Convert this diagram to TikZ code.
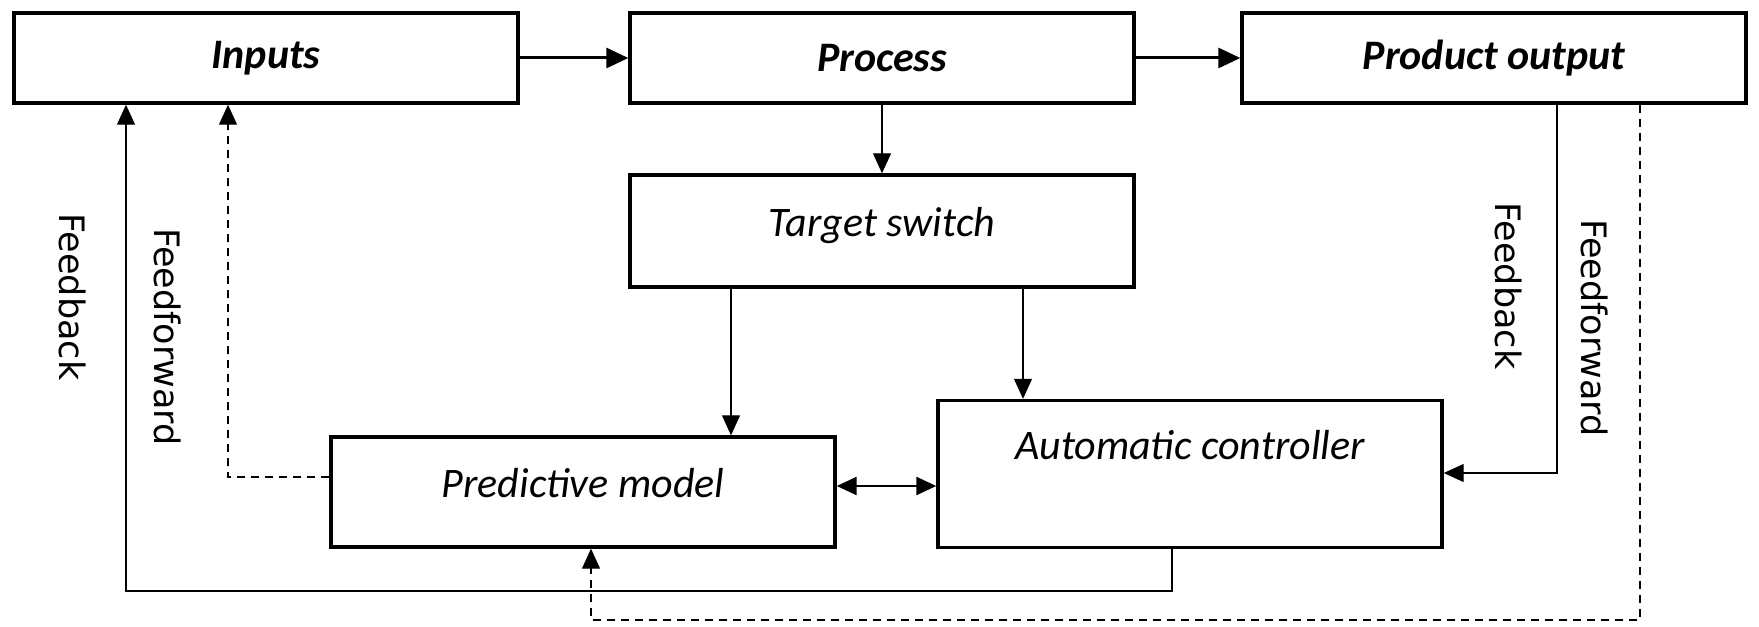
\documentclass[tikz,border=0pt]{standalone}
\usepackage{fontspec}
\setmainfont{Carlito}
\newfontfamily\labelfont{DejaVu Sans}
\usetikzlibrary{arrows.meta}

\tikzset{
  box/.style={draw, line width=1.7pt, minimum width=252pt, inner sep=0pt,
    font=\fontsize{21}{25}\selectfont\itshape},
  topbox/.style={box, minimum height=45pt,
    font=\fontsize{21}{25}\selectfont\bfseries\itshape},
  arr/.style={-{Triangle[length=10pt,width=9pt]}, line width=0.6pt},
  thickarr/.style={-{Triangle[length=11pt,width=10pt]}, line width=1.5pt},
  biarr/.style={{Triangle[length=10pt,width=9pt]}-{Triangle[length=10pt,width=9pt]}, line width=1.2pt},
  ffline/.style={dash pattern=on 4pt off 3pt},
  sidetext/.style={font=\labelfont\fontsize{17.5}{20}\selectfont, rotate=-90},
}

\begin{document}
\begin{tikzpicture}[x=0.5pt, y=-0.5pt]
    \useasboundingbox (0,0) rectangle (1759,626);

    % top row
    \node[topbox] (inputs) at (266,58) {Inputs};
    \node[topbox] (process) at (882,58) {Process};
    \node[topbox] (output) at (1494,58) {Product output};

    % middle and bottom
    \node[box, minimum height=56pt, text height=15pt, text depth=10pt] (target) at (882,231) {Target switch};
    \node[box, minimum height=55pt, text height=15pt, text depth=10pt] (model) at (583,492) {Predictive model};
    \node[box, minimum height=73.5pt, text height=15pt, text depth=30pt] (ctrl) at (1190,474) {Automatic controller};

    \draw[thickarr] (inputs) -- (process);
    \draw[thickarr] (process) -- (output);
    \draw[arr] (process) -- (target);

    \coordinate (tm) at (731,0);
    \coordinate (tc) at (1023,0);
    \draw[arr] (target.south -| tm) -- (model.north -| tm);
    \draw[arr] (target.south -| tc) -- (ctrl.north -| tc);

    \coordinate (mc) at (0,486);
    \draw[biarr] (model.east |- mc) -- (ctrl.west |- mc);

    % feedback / feedforward to inputs
    \coordinate (fbl) at (126,591);
    \coordinate (fbr) at (1172,591);
    \draw[arr] (ctrl.south -| fbr) -- (fbr) -- (fbl) -- (inputs.south -| fbl);
    \node[sidetext] (fbleft) at (73,297) {Feedback};

    \coordinate (ffl) at (228,477);
    \draw[arr, ffline] (model.west |- ffl) -- (ffl) -- (inputs.south -| ffl);
    \node[sidetext] (ffleft) at (168,337) {Feedforward};

    % feedback / feedforward from output
    \coordinate (fbo) at (1557,473);
    \draw[arr] (output.south -| fbo) -- (fbo) -- (ctrl.east |- fbo);
    \node[sidetext] (fbright) at (1509,286) {Feedback};

    \coordinate (ffo) at (1640,620);
    \coordinate (ffm) at (591,620);
    \draw[arr, ffline] (output.south -| ffo) -- (ffo) -- (ffm) -- (model.south -| ffm);
    \node[sidetext] (ffright) at (1595,328) {Feedforward};
\end{tikzpicture}
\end{document}
